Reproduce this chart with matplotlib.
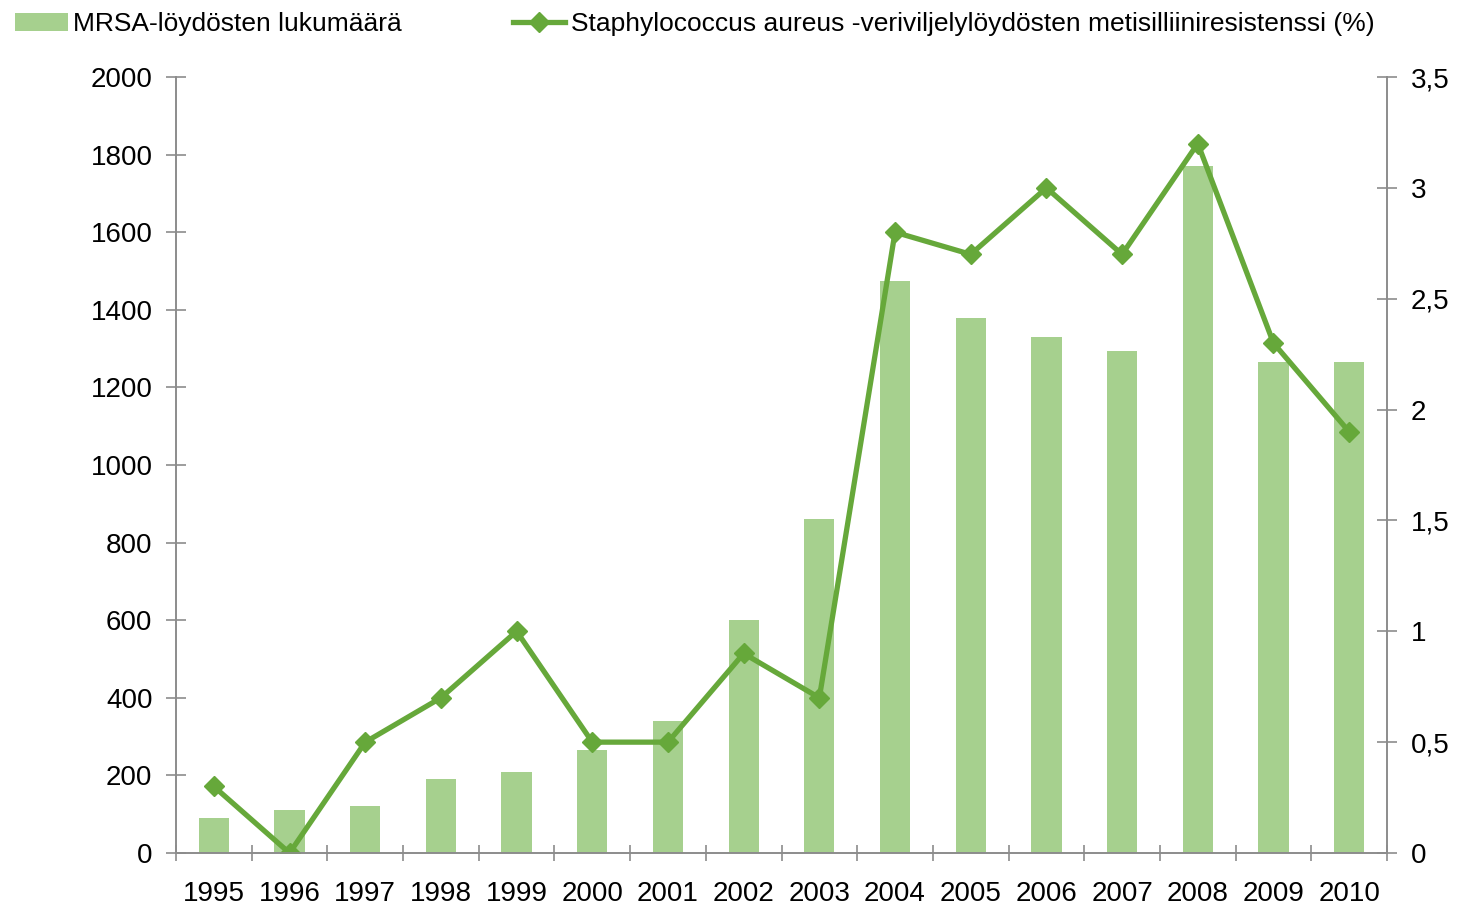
import numpy as np
import matplotlib.pyplot as plt
from matplotlib.ticker import FuncFormatter

plt.rcParams['font.family'] = ['Liberation Sans', 'DejaVu Sans']

# Data
years = ['1995', '1996', '1997', '1998', '1999', '2000', '2001', '2002',
         '2003', '2004', '2005', '2006', '2007', '2008', '2009', '2010']
mrsa_counts = [90, 110, 120, 190, 210, 265, 340, 600,
               860, 1475, 1380, 1330, 1295, 1770, 1265, 1265]
resistance_pct = [0.3, 0.0, 0.5, 0.7, 1.0, 0.5, 0.5, 0.9,
                  0.7, 2.8, 2.7, 3.0, 2.7, 3.2, 2.3, 1.9]

bar_color = '#A6D08E'
line_color = '#66A83A'
axis_color = '#8C8C8C'

fig = plt.figure(figsize=(14.57, 9.06), dpi=100)
ax = fig.add_axes([176 / 1457, 1 - 853 / 906, (1387 - 176) / 1457, (853 - 77) / 906])
ax2 = ax.twinx()

x = np.arange(len(years))
bars = ax.bar(x, mrsa_counts, width=0.4, color=bar_color, zorder=2,
              label='MRSA-löydösten lukumäärä')
line, = ax2.plot(x, resistance_pct, color=line_color, lw=3.8, marker='D', ms=10,
                 label='Staphylococcus aureus -veriviljelylöydösten metisilliiniresistenssi (%)')

ax.set_xlim(-0.5, len(years) - 0.5)
ax.set_ylim(0, 2000)
ax2.set_ylim(0, 3.5)
ax.set_yticks(np.arange(0, 2001, 200))
ax2.set_yticks(np.arange(0, 3.51, 0.5))
ax2.yaxis.set_major_formatter(FuncFormatter(lambda v, p: f'{v:g}'.replace('.', ',')))

# x ticks at category boundaries, labels centered
ax.set_xticks(np.arange(-0.5, len(years), 1.0))
ax.set_xticklabels([])
ax.set_xticks(x, minor=True)
ax.set_xticklabels(years, minor=True)
ax.tick_params(axis='x', which='minor', length=0, pad=20, labelsize=20)
ax.tick_params(axis='x', which='major', direction='inout', length=12, color=axis_color, width=1.2)
ax.tick_params(axis='y', direction='inout', length=14, color=axis_color, width=1.2,
               labelsize=20, pad=10)
ax2.tick_params(axis='y', direction='inout', length=14, color=axis_color, width=1.2,
                labelsize=20, pad=10)

for a in (ax, ax2):
    a.spines['top'].set_visible(False)
    for s in ('left', 'right', 'bottom'):
        a.spines[s].set_color(axis_color)
        a.spines[s].set_linewidth(1.2)

fig.legend(handles=[bars, line], loc='upper left', bbox_to_anchor=(0.003, 0.998),
           ncol=2, frameon=False, fontsize=19, handlelength=2.0, handletextpad=0.2,
           columnspacing=4.2, borderaxespad=0)

fig.savefig('out.png', dpi=100)
